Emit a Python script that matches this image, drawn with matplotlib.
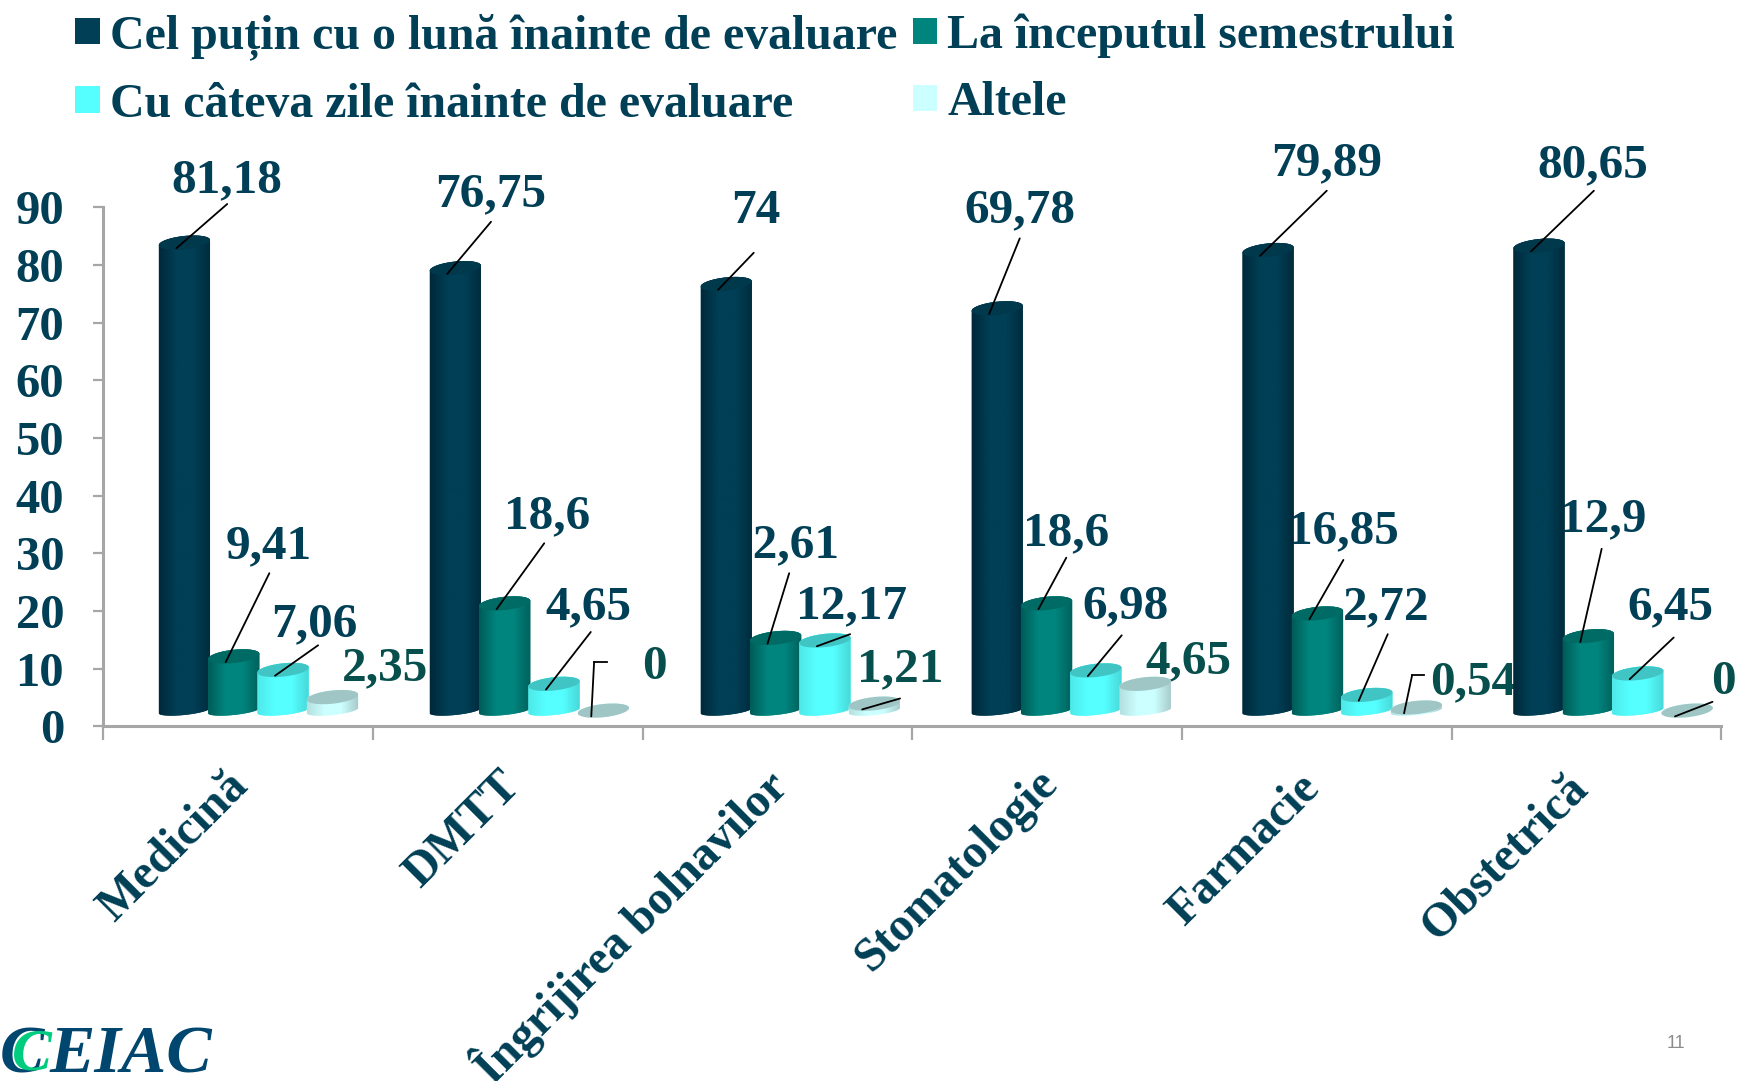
import numpy as np
import matplotlib
matplotlib.use("Agg")
import matplotlib.pyplot as plt
from matplotlib.colors import LinearSegmentedColormap
from matplotlib.patches import Patch
from matplotlib.transforms import Affine2D, ScaledTranslation
from matplotlib.lines import Line2D

plt.rcParams["font.family"] = ["Liberation Serif", "DejaVu Serif"]
plt.rcParams["font.weight"] = "bold"

categories = ["Medicină", "DMTT", "Îngrijirea bolnavilor", "Stomatologie", "Farmacie", "Obstetrică"]
series_names = [
    "Cel puțin cu o lună înainte de evaluare",
    "La începutul semestrului",
    "Cu câteva zile înainte de evaluare",
    "Altele",
]
luna = [81.18, 76.75, 74, 69.78, 79.89, 80.65]
inceput = [9.41, 18.6, 12.61, 18.6, 16.85, 12.9]
zile = [7.06, 4.65, 12.17, 6.98, 2.72, 6.45]
altele = [2.35, 0, 1.21, 4.65, 0.54, 0]
y_ticks = [0, 10, 20, 30, 40, 50, 60, 70, 80, 90]

# look of each series: left edge, middle, right edge, top of the cylinder, swatch
looks = [
    ("#00283a", "#003f55", "#002b3d", "#00384c", "#003f55"),
    ("#005c58", "#00857e", "#00605c", "#006a64", "#00857e"),
    ("#4fe8e8", "#55ffff", "#48d8d8", "#40c4c4", "#55ffff"),
    ("#b5e0e0", "#ccffff", "#a8c8c8", "#9fc5c5", "#ccffff"),
]
label_cols = ["#003f55", "#003f55", "#003f55", "#064f4c"]

fig = plt.figure(figsize=(17.38, 10.81), dpi=100)
# layout below is read in the 1568x975 view of the picture
ref = Affine2D().scale(1 / 1568, -1 / 975).translate(0, 1) + fig.transFigure
ax = fig.add_axes([93 / 1568, 1 - 655 / 975, (1553 - 93) / 1568, (655 - 187) / 975])

# text centre of every value label, per group and series
label_pos = [
    [(205, 163), (242, 493), (284, 563), (347, 603)],
    [(443, 175), (494, 466), (531, 548), (590, 602)],
    [(682, 190), (707, 492), (768, 547), (812, 604)],
    [(920, 190), (962, 481), (1015, 547), (1072, 596)],
    [(1197, 147), (1212, 479), (1251, 548), (1329, 615)],
    [(1437, 149), (1446, 468), (1507, 548), (1555, 615)],
]
# outer end of the leader lines, None where there is no leader
leader_end = [
    [(205, 184), (243, 517), (287, 582), None],
    [(443, 200), (491, 490), (533, 570), (536, 597)],
    [(680, 228), (712, 517), (767, 572), (812, 630)],
    [(920, 215), (962, 503), (1012, 573), None],
    [(1197, 172), (1212, 505), (1252, 572), (1274, 609)],
    [(1438, 172), (1445, 495), (1510, 575), (1545, 633)],
]
elbows = [((536, 597), (548, 597)), ((1274, 609), (1285, 609))]
# nudge of the category names, in the same view
cat_shift = [(8, -6), (10, -6), (6, -8), (8, -9), (1, -4), (0, -4)]

base = 2.7
half_w = 0.095
step = 0.183
cap_h = 1.15
foot_h = 0.75
cap_tilt = 0.45
t = np.linspace(0, 2 * np.pi, 80)


def cap(cx, cy, h=cap_h):
    return cx + half_w * np.cos(t), cy + h * np.sin(t) + cap_tilt * np.cos(t)


values = [luna, inceput, zile, altele]
z = 5
for i in range(len(categories)):
    x0 = i + 0.076 + 0.0045 * i
    for j in range(4):
        v = values[j][i]
        cx = x0 + (j - 1.5) * step
        left, mid, right, top, _ = looks[j]
        xb, yb = cap(cx, base, foot_h)
        xt, yt = cap(cx, base + v)
        lower = t >= np.pi
        upper = t <= np.pi
        xs = np.concatenate([xb[lower], xt[upper]])
        ys = np.concatenate([yb[lower], yt[upper]])
        body = ax.fill(xs, ys, color=mid, lw=0, zorder=z)[0]
        cmap = LinearSegmentedColormap.from_list("c", [left, mid, mid, right])
        im = ax.imshow(np.linspace(0, 1, 64).reshape(1, -1), cmap=cmap, aspect="auto",
                       extent=(cx - half_w, cx + half_w, base - 3, base + v + 3),
                       interpolation="bilinear", zorder=z + 0.1)
        im.set_clip_path(body)
        ax.fill(xt, yt, color=top, lw=0, zorder=z + 0.2)
        z += 1

        # labels lie under the bars, as in the slide: the 1 of 12,61 is hidden by its neighbour
        txt = format(v, "g").replace(".", ",")
        ax.text(*label_pos[i][j], txt, transform=ref, ha="center", va="center",
                fontsize=35.5, color=label_cols[j], zorder=2, clip_on=False)
        end = leader_end[i][j]
        if end is not None:
            dx = -0.045 if j == 3 else -0.03
            ax.annotate("", xy=(cx + dx, base + v - 1), xycoords="data", xytext=end, textcoords=ref,
                        arrowprops=dict(arrowstyle="-", color="black", lw=1.3, shrinkA=0, shrinkB=0),
                        zorder=60, annotation_clip=False)

for a, b in elbows:
    fig.add_artist(Line2D([a[0], b[0]], [a[1], b[1]], transform=ref, color="black", lw=1.3, zorder=60))

ax.set_xlim(-0.5, 5.5)
ax.set_ylim(0, 90)
for s in ["top", "right"]:
    ax.spines[s].set_visible(False)
for s in ["left", "bottom"]:
    ax.spines[s].set_color("#a6a6a6")
    ax.spines[s].set_linewidth(2.2)

ax.set_yticks(y_ticks)
ax.tick_params(axis="y", length=7, width=1.6, color="#a6a6a6", labelsize=35, labelcolor="#003f55", pad=21)
ax.set_xticks(np.arange(-0.5, 6, 1))
ax.set_xticklabels([])
ax.tick_params(axis="x", which="major", length=10, width=1.6, color="#a6a6a6")

# category names sit on minor ticks so they stay centred on each group
ax.set_xticks(np.arange(len(categories)), labels=categories, minor=True)
ax.tick_params(axis="x", which="minor", length=0, pad=43, labelsize=34.5, labelcolor="#003f55")
for lab, (dx, dy) in zip(ax.get_xticklabels(minor=True), cat_shift):
    shift = ScaledTranslation((dx - 5) * 1.108 / 100, -dy * 1.108 / 100, fig.dpi_scale_trans)
    lab.set_rotation(45)
    lab.set_ha("right")
    lab.set_va("center")
    lab.set_rotation_mode("anchor")
    lab.set_transform(lab.get_transform() + shift)

handles = [Patch(color=looks[k][4], lw=0) for k in [0, 2, 1, 3]]
names = [series_names[k] for k in [0, 2, 1, 3]]
fig.legend(handles, names, ncol=2, loc="upper left", bbox_to_anchor=(68 / 1568, 1 - 12 / 975),
           frameon=False, fontsize=34.5, labelcolor="#003f55", handlelength=0.52, handleheight=0.47,
           handletextpad=0.2, columnspacing=0.32, labelspacing=0.47, borderpad=0, borderaxespad=0)

# logo and page number of the slide
fig.text(0 / 1568, 1 - 967 / 975, "C", fontsize=48, style="italic", color="#00466e")
fig.text(11 / 1568, 1 - 965 / 975, "C", fontsize=43, style="italic", color="#00cc80")
fig.text(45 / 1568, 1 - 967 / 975, "EIAC", fontsize=49, style="italic", color="#00466e")
fig.text(1512 / 1568, 1 - 941 / 975, "11", fontsize=13, weight="normal", family="Liberation Sans",
         color="#8c8c8c", ha="center", va="center")

fig.savefig("out.png", dpi=100)
